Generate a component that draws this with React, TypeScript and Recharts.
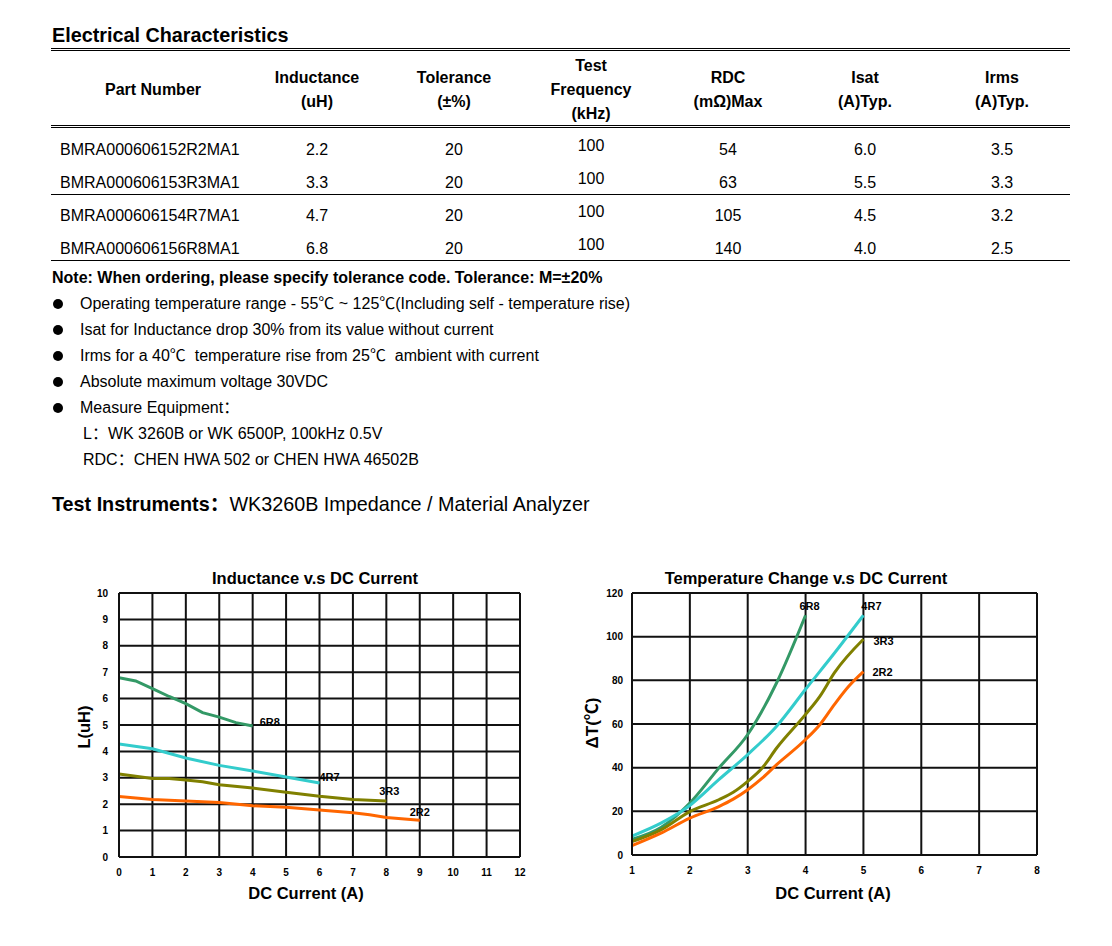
import React from 'react';
import { LineChart, Line, XAxis, YAxis, CartesianGrid } from 'recharts';

const FONT = '"Liberation Sans", Arial, "Noto Sans CJK SC", sans-serif';

// table values
const partNumbers = ['BMRA000606152R2MA1', 'BMRA000606153R3MA1', 'BMRA000606154R7MA1', 'BMRA000606156R8MA1'];
const inductance = ['2.2', '3.3', '4.7', '6.8'];
const tolerance = ['20', '20', '20', '20'];
const testFreq = ['100', '100', '100', '100'];
const rdcMax = ['54', '63', '105', '140'];
const isatTyp = ['6.0', '5.5', '4.5', '4.0'];
const irmsTyp = ['3.5', '3.3', '3.2', '2.5'];

const bulletNotes = [
  'Operating temperature range - 55℃ ~ 125℃(Including self - temperature rise)',
  'Isat for Inductance drop 30% from its value without current',
  'Irms for a 40℃  temperature rise from 25℃  ambient with current',
  'Absolute maximum voltage 30VDC',
  'Measure Equipment：',
];
const equipment = ['L：WK 3260B or WK 6500P, 100kHz 0.5V', 'RDC：CHEN HWA 502 or CHEN HWA 46502B'];

// Inductance v.s DC Current
const indCurrent6R8 = [0, 0.5, 1, 1.5, 2, 2.5, 3, 3.5, 4];
const ind6R8 = [6.79, 6.67, 6.38, 6.08, 5.81, 5.47, 5.3, 5.09, 4.96];
const indCurrent4R7 = [0, 1, 2, 3, 4, 5, 6];
const ind4R7 = [4.28, 4.1, 3.75, 3.47, 3.26, 3.03, 2.8];
const indCurrent3R3 = [0, 1, 1.5, 2, 2.5, 3, 4, 5, 6, 7, 8];
const ind3R3 = [3.14, 2.97, 2.97, 2.92, 2.85, 2.74, 2.61, 2.45, 2.3, 2.18, 2.12];
const indCurrent2R2 = [0, 1, 2, 3, 4, 5, 6, 7, 7.5, 8, 9];
const ind2R2 = [2.29, 2.18, 2.12, 2.06, 1.94, 1.88, 1.78, 1.68, 1.6, 1.5, 1.39];
const indXTicks = [0, 1, 2, 3, 4, 5, 6, 7, 8, 9, 10, 11, 12];
const indYTicks = [0, 1, 2, 3, 4, 5, 6, 7, 8, 9, 10];

// Temperature Change v.s DC Current
const tempCurrent6R8 = [1, 1.5, 2, 2.5, 3, 3.5, 4];
const temp6R8 = [7.2, 12.6, 23.8, 39.8, 55.2, 78.9, 109.8];
const tempCurrent4R7 = [1, 1.5, 2, 2.5, 3, 3.5, 4, 4.5, 5];
const temp4R7 = [8.7, 14.6, 22.7, 34.5, 46, 59, 75.9, 92.5, 109.8];
const tempCurrent3R3 = [1, 1.5, 2, 2.5, 2.75, 3, 3.25, 3.5, 4, 4.25, 4.5, 5];
const temp3R3 = [6.1, 11.5, 19.9, 25.3, 28.7, 33.7, 39.8, 49, 64.4, 72.8, 83.5, 98.8];
const tempCurrent2R2 = [1, 1.5, 2, 2.5, 2.75, 3, 3.25, 3.5, 4, 4.25, 4.5, 4.75, 5];
const temp2R2 = [4.3, 10, 16.9, 22.2, 25.6, 29.9, 35.2, 41.4, 52.9, 59.8, 69, 77.4, 84];
const tempXTicks = [1, 2, 3, 4, 5, 6, 7, 8];
const tempYTicks = [0, 20, 40, 60, 80, 100, 120];

const COLORS = { r68: '#339966', r47: '#33cccc', r33: '#808000', r22: '#ff6600' };

const pts = (xs: number[], ys: number[]) => xs.map((x, i) => ({ x, y: ys[i] }));

// label drawn only at the last point of a curve
const endLabel = (name: string, last: number, dx: number, dy: number, anchor: string = 'start') =>
  (p: any) =>
    p.index === last ? (
      <text key={name} x={p.x + dx} y={p.y + dy} textAnchor={anchor} dominantBaseline="central"
        fontSize={11} fontWeight={700} fontFamily={FONT} fill="#000">{name}</text>
    ) : <g key={`${name}-${p.index}`} />;

function T({ x, y, children, anchor = 'start', size = 16, bold = false, w = 620 }: any) {
  const left = anchor === 'middle' ? x - w / 2 : x;
  return (
    <div style={{
      position: 'absolute', left, top: y - size + 1, width: w, height: size * 2, lineHeight: `${size * 2}px`,
      textAlign: anchor === 'middle' ? 'center' : 'left', fontSize: size, fontWeight: bold ? 700 : 400,
      whiteSpace: 'pre', color: '#000',
    }}>{children}</div>
  );
}

const HLine = ({ y }: { y: number }) => (
  <div style={{ position: 'absolute', left: 51, width: 1019, top: y, height: 1, background: '#000' }} />
);

const Dot = ({ y }: { y: number }) => (
  <div style={{ position: 'absolute', left: 53, top: y - 4.5, width: 10, height: 10, borderRadius: '50%', background: '#000' }} />
);

const tickStyle = { fontSize: 10, fontWeight: 700, fill: '#000', fontFamily: FONT };

export default function App() {
  const cols = [317, 454, 591, 728, 865, 1002];
  const rowY = [149, 182, 215, 248];
  const rowCols = [inductance, tolerance, testFreq, rdcMax, isatTyp, irmsTyp];

  return (
    <div style={{ position: 'absolute', left: 0, top: 0, width: 1112, height: 946, background: '#fff', fontFamily: FONT }}>
      <T x={52} y={35} size={19.8} bold>Electrical Characteristics</T>
      <HLine y={48} />
      <HLine y={50} />

      <T x={153} y={89} anchor="middle" bold w={200}>Part Number</T>
      <T x={cols[0]} y={77} anchor="middle" bold w={130}>Inductance</T>
      <T x={cols[0]} y={101} anchor="middle" bold w={130}>(uH)</T>
      <T x={cols[1]} y={77} anchor="middle" bold w={130}>Tolerance</T>
      <T x={cols[1]} y={101} anchor="middle" bold w={130}>(±%)</T>
      <T x={cols[2]} y={65} anchor="middle" bold w={130}>Test</T>
      <T x={cols[2]} y={89} anchor="middle" bold w={130}>Frequency</T>
      <T x={cols[2]} y={113} anchor="middle" bold w={130}>(kHz)</T>
      <T x={cols[3]} y={77} anchor="middle" bold w={130}>RDC</T>
      <T x={cols[3]} y={101} anchor="middle" bold w={130}>(mΩ)Max</T>
      <T x={cols[4]} y={77} anchor="middle" bold w={130}>Isat</T>
      <T x={cols[4]} y={101} anchor="middle" bold w={130}>(A)Typ.</T>
      <T x={cols[5]} y={77} anchor="middle" bold w={130}>Irms</T>
      <T x={cols[5]} y={101} anchor="middle" bold w={130}>(A)Typ.</T>
      <HLine y={125} />
      <HLine y={127} />

      {partNumbers.map((pn, i) => (
        <React.Fragment key={pn}>
          <T x={60} y={rowY[i]}>{pn}</T>
          {rowCols.map((col, c) => (
            <T key={c} x={cols[c]} y={c === 2 ? rowY[i] - 4 : rowY[i]} anchor="middle" w={130}>{col[i]}</T>
          ))}
        </React.Fragment>
      ))}
      <HLine y={194} />
      <HLine y={260} />

      <T x={52} y={277} size={16} bold>Note: When ordering, please specify tolerance code. Tolerance: M=±20%</T>
      {bulletNotes.map((n, i) => (
        <React.Fragment key={i}>
          <Dot y={303 + i * 26} />
          <T x={80} y={303 + i * 26} size={16}>{n}</T>
        </React.Fragment>
      ))}
      {equipment.map((e, i) => (
        <T key={i} x={83} y={433 + i * 26} size={16}>{e}</T>
      ))}

      <T x={52} y={504} size={19.75}><b>Test Instruments：</b>WK3260B Impedance / Material Analyzer</T>

      {/* Inductance chart */}
      <T x={315} y={577} anchor="middle" size={16.5} bold>Inductance v.s DC Current</T>
      <div style={{ position: 'absolute', left: 84 - 50, top: 727 - 12, width: 100, height: 24, lineHeight: '24px', textAlign: 'center', fontSize: 16.5, fontWeight: 700, transform: 'rotate(-90deg)' }}>L(uH)</div>
      <T x={306} y={892} anchor="middle" size={16.5} bold>DC Current (A)</T>
      <div style={{ position: 'absolute', left: 60, top: 560 }}>
        <LineChart width={480} height={350} margin={{ top: 33, right: 20, left: 0, bottom: 0 }}>
          <CartesianGrid stroke="#111" strokeWidth={2} />
          <XAxis type="number" dataKey="x" domain={[0, 12]} ticks={indXTicks} interval={0}
            axisLine={{ stroke: '#111', strokeWidth: 2 }} tickLine={false} tickSize={6} tickMargin={6}
            height={53} tick={tickStyle} allowDataOverflow />
          <YAxis type="number" dataKey="y" domain={[0, 10]} ticks={indYTicks} interval={0}
            axisLine={{ stroke: '#111', strokeWidth: 2 }} tickLine={false} tickSize={6} tickMargin={5}
            width={59} tick={tickStyle} allowDataOverflow />
          <Line data={pts(indCurrent6R8, ind6R8)} dataKey="y" stroke={COLORS.r68} strokeWidth={3} dot={false}
            isAnimationActive={false} label={endLabel('6R8', indCurrent6R8.length - 1, 7, -4)} />
          <Line data={pts(indCurrent4R7, ind4R7)} dataKey="y" stroke={COLORS.r47} strokeWidth={3} dot={false}
            isAnimationActive={false} label={endLabel('4R7', indCurrent4R7.length - 1, 0, -6)} />
          <Line data={pts(indCurrent3R3, ind3R3)} dataKey="y" stroke={COLORS.r33} strokeWidth={3} dot={false}
            isAnimationActive={false} label={endLabel('3R3', indCurrent3R3.length - 1, 3, -10, 'middle')} />
          <Line data={pts(indCurrent2R2, ind2R2)} dataKey="y" stroke={COLORS.r22} strokeWidth={3} dot={false}
            isAnimationActive={false} label={endLabel('2R2', indCurrent2R2.length - 1, 0, -8, 'middle')} />
        </LineChart>
      </div>

      {/* Temperature chart */}
      <T x={806} y={577} anchor="middle" size={16.5} bold>Temperature Change v.s DC Current</T>
      <div style={{ position: 'absolute', left: 593 - 50, top: 723 - 13, width: 100, height: 26, lineHeight: '26px', textAlign: 'center', fontSize: 17, fontWeight: 700, transform: 'rotate(-90deg)' }}>ΔT(℃)</div>
      <T x={833} y={892} anchor="middle" size={16.5} bold>DC Current (A)</T>
      <div style={{ position: 'absolute', left: 580, top: 560 }}>
        <LineChart width={480} height={350} margin={{ top: 33, right: 23, left: 0, bottom: 0 }}>
          <CartesianGrid stroke="#111" strokeWidth={2} />
          <XAxis type="number" dataKey="x" domain={[1, 8]} ticks={tempXTicks} interval={0}
            axisLine={{ stroke: '#111', strokeWidth: 2 }} tickLine={false} tickSize={6} tickMargin={6}
            height={55} tick={tickStyle} allowDataOverflow />
          <YAxis type="number" dataKey="y" domain={[0, 120]} ticks={tempYTicks} interval={0}
            axisLine={{ stroke: '#111', strokeWidth: 2 }} tickLine={false} tickSize={4} tickMargin={5}
            width={52} tick={tickStyle} allowDataOverflow />
          <Line data={pts(tempCurrent6R8, temp6R8)} dataKey="y" type="monotone" stroke={COLORS.r68} strokeWidth={3}
            dot={false} isAnimationActive={false} label={endLabel('6R8', tempCurrent6R8.length - 1, 4, -9, 'middle')} />
          <Line data={pts(tempCurrent4R7, temp4R7)} dataKey="y" type="monotone" stroke={COLORS.r47} strokeWidth={3}
            dot={false} isAnimationActive={false} label={endLabel('4R7', tempCurrent4R7.length - 1, 8, -9, 'middle')} />
          <Line data={pts(tempCurrent3R3, temp3R3)} dataKey="y" type="monotone" stroke={COLORS.r33} strokeWidth={3}
            dot={false} isAnimationActive={false} label={endLabel('3R3', tempCurrent3R3.length - 1, 10, 2)} />
          <Line data={pts(tempCurrent2R2, temp2R2)} dataKey="y" type="monotone" stroke={COLORS.r22} strokeWidth={3}
            dot={false} isAnimationActive={false} label={endLabel('2R2', tempCurrent2R2.length - 1, 9, 0)} />
        </LineChart>
      </div>
    </div>
  );
}
